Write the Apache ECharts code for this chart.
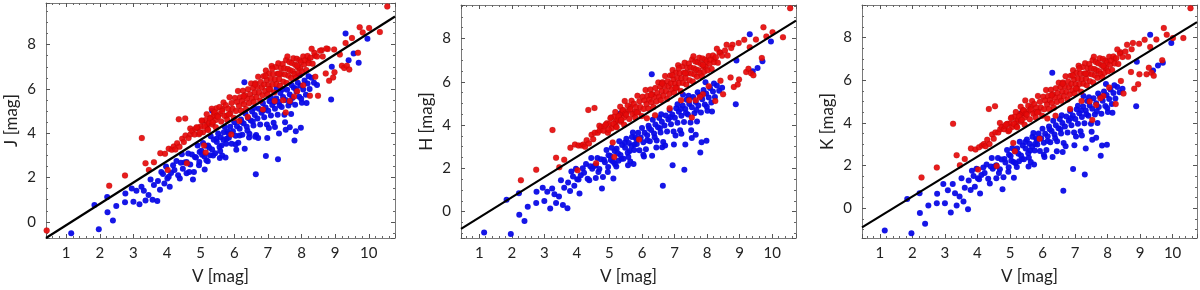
<!DOCTYPE html>
<html><head><meta charset="utf-8">
<script src="https://cdn.jsdelivr.net/npm/echarts@6/dist/echarts.min.js"></script>
<style>html,body{margin:0;padding:0;background:#fff}#c{width:1200px;height:290px}</style>
</head><body><div id="c"></div>
<script>
// rows: [V, J, H, K]
const redStars = [
[0.42,-0.39,-0.53,-0.59],[2.28,1.63,1.45,1.44],[2.75,2.09,1.94,1.90],[3.25,3.78,3.77,3.95],
[3.36,2.64,2.49,2.48],[3.46,2.34,2.05,2.01],[3.61,2.69,2.40,2.30],[3.80,3.10,2.95,2.80],
[3.94,3.07,3.10,2.75],[4.02,2.34,1.91,1.81],[4.05,3.30,3.05,2.85],[4.14,3.25,3.05,2.94],
[4.20,3.40,3.10,3.00],[4.25,3.27,3.00,2.90],[4.30,3.55,3.30,3.20],[4.37,3.39,3.15,3.00],
[4.35,4.63,4.70,4.64],[4.45,3.75,3.55,3.45],[4.50,3.60,3.35,3.25],[4.54,4.67,4.79,4.78],
[4.55,3.90,3.65,3.55],[4.59,2.64,2.24,1.97],[4.64,3.78,3.65,3.55],[4.69,4.21,3.97,3.99],
[4.70,3.95,3.75,3.70],[4.75,4.10,3.90,3.80],[4.82,3.94,3.74,3.70],[4.85,4.20,3.95,3.85],
[4.92,4.25,4.08,3.95],[4.95,3.95,3.65,3.60],[5.00,4.30,4.05,3.95],[5.05,4.55,4.35,4.25],
[5.07,4.04,3.85,3.80],[5.10,3.45,3.20,3.05],[5.15,3.13,2.52,2.66],[5.15,4.60,4.40,4.30],
[5.19,4.37,4.15,4.05],[5.20,4.20,3.95,3.85],[5.25,4.46,4.25,4.15],[5.30,4.70,4.45,4.40],
[5.35,4.40,4.15,4.05],[5.38,4.78,4.55,4.45],[5.40,4.95,4.70,4.60],[5.45,4.60,4.35,4.25],
[5.47,5.13,5.11,5.05],[5.57,4.87,4.65,4.55],[5.65,5.09,4.85,4.75],[5.77,4.79,4.60,4.50],
[5.91,3.94,3.33,3.25],[6.15,4.55,4.31,4.20],[7.53,4.94,4.35,4.13],[7.65,5.45,5.15,4.83],
[7.87,5.90,5.42,5.26],[8.25,5.69,5.11,4.88],[8.49,5.69,5.42,5.37],[8.41,6.55,6.05,5.96],
[8.72,6.70,6.20,6.38],[8.82,6.37,5.76,5.60],[8.94,6.52,5.88,5.80],[8.98,6.75,6.11,6.27],
[9.20,7.05,6.45,6.27],[9.27,6.95,6.60,6.58],[9.35,7.05,6.40,6.35],[9.42,6.88,6.30,6.20],
[9.68,7.63,7.10,6.93],[8.60,7.75,7.71,7.66],[8.78,7.80,7.71,7.74],[8.97,7.78,7.79,7.70],
[9.14,7.55,7.94,7.89],[9.31,8.07,7.60,7.55],[9.50,8.30,7.95,7.90],[9.73,8.78,8.52,8.44],
[9.82,8.55,8.09,8.13],[10.01,8.75,8.29,7.97],[10.33,8.57,8.06,7.97],[10.55,9.72,9.40,9.37],
[8.40,7.50,7.35,7.30],[8.20,7.30,7.05,7.00],
[4.88,4.27,4.02,3.92],[4.98,4.02,3.78,3.66],[5.03,4.57,4.32,4.21],[5.12,4.31,4.06,3.95],
[5.18,4.86,4.60,4.50],[5.22,4.15,3.90,3.79],[5.28,4.66,4.40,4.30],[5.33,5.11,4.85,4.75],
[5.36,4.49,4.23,4.13],[5.42,4.94,4.68,4.58],[5.45,4.27,4.02,3.91],[5.49,4.78,4.52,4.42],
[5.52,4.74,4.47,4.38],[5.56,5.18,4.90,4.80],[5.61,4.53,4.28,4.16],[5.64,5.00,4.73,4.62],
[5.68,5.39,5.12,5.02],[5.72,4.78,4.50,4.42],[5.75,5.26,4.98,4.88],[5.79,4.60,4.35,4.25],
[5.82,5.10,4.83,4.71],[5.86,5.62,5.35,5.26],[5.88,4.89,4.60,4.52],[5.92,5.37,5.10,4.99],
[5.95,5.10,4.84,4.72],[5.99,4.69,4.42,4.33],[6.02,5.59,5.31,5.22],[6.05,5.00,4.74,4.63],
[6.08,5.41,5.13,5.04],[6.11,5.91,5.62,5.54],[6.14,5.23,4.96,4.86],[6.17,5.63,5.36,5.26],
[6.20,5.02,4.76,4.64],[6.23,5.45,5.18,5.07],[6.26,5.92,5.64,5.55],[6.29,5.31,5.05,4.93],
[6.32,5.71,5.43,5.34],[6.35,5.09,4.83,4.71],[6.38,5.56,5.30,5.18],[6.41,5.99,5.71,5.62],
[6.44,5.35,5.09,4.97],[6.47,5.76,5.48,5.39],[6.50,6.25,5.97,5.88],[6.53,5.58,5.31,5.20],
[6.56,6.04,5.77,5.66],[6.58,5.41,5.15,5.03],[6.61,5.84,5.57,5.46],[6.63,6.26,5.98,5.89],
[6.66,5.63,5.36,5.25],[6.69,6.09,5.82,5.71],[6.71,6.55,6.27,6.18],[6.74,5.84,5.58,5.46],
[6.77,5.47,5.20,5.09],[6.79,6.31,6.03,5.94],[6.82,6.06,5.80,5.68],[6.84,5.71,5.44,5.33],
[6.87,6.57,6.29,6.20],[6.89,6.20,5.93,5.82],[6.92,5.91,5.65,5.53],[6.94,6.83,6.55,6.46],
[6.97,6.40,6.12,6.03],[6.99,5.75,5.49,5.37],[7.02,6.18,5.91,5.80],[7.04,6.70,6.42,6.33],
[7.07,5.98,5.72,5.60],[7.09,6.45,6.18,6.07],[7.11,7.04,6.76,6.67],[7.14,6.20,5.94,5.82],
[7.16,6.68,6.40,6.31],[7.19,5.84,5.58,5.46],[7.21,6.43,6.16,6.05],[7.24,6.99,6.71,6.62],
[7.26,6.21,5.95,5.83],[7.29,6.69,6.42,6.31],[7.31,7.16,6.88,6.79],[7.34,6.44,6.18,6.06],
[7.36,6.14,5.88,5.76],[7.39,6.93,6.65,6.56],[7.41,6.68,6.41,6.30],[7.44,7.13,6.85,6.76],
[7.46,6.33,6.07,5.95],[7.49,6.93,6.66,6.55],[7.51,6.65,6.38,6.27],[7.54,7.31,7.03,6.94],
[7.56,6.27,6.01,5.89],[7.59,6.90,6.63,6.52],[7.61,6.60,6.34,6.22],[7.64,7.22,6.94,6.85],
[7.66,6.84,6.57,6.46],[7.69,6.49,6.23,6.11],[7.71,7.17,6.90,6.79],[7.74,6.80,6.53,6.42],
[7.76,7.39,7.11,7.02],[7.79,6.67,6.41,6.29],[7.81,7.09,6.82,6.71],[7.84,6.52,6.26,6.14],
[7.86,7.36,7.08,6.99],[7.89,6.98,6.71,6.60],[7.91,6.73,6.47,6.35],[7.94,7.29,7.02,6.91],
[7.96,6.95,6.69,6.57],[7.99,7.21,6.94,6.83],[8.02,6.79,6.53,6.41],[8.05,7.47,7.19,7.10],
[8.08,7.10,6.83,6.72],[8.11,7.30,7.03,6.92],[8.14,6.85,6.59,6.47],[8.18,7.49,7.22,7.11],
[8.22,7.16,6.90,6.78],[8.27,7.41,7.14,7.03],[8.33,7.14,6.88,6.76],[8.38,7.63,7.36,7.25],
[8.46,7.46,7.20,7.08],[8.55,7.72,7.45,7.34],[8.63,7.47,7.21,7.09],[8.74,7.83,7.56,7.45],
[7.20,5.45,5.15,5.02],[7.45,5.49,5.15,5.00],[6.85,5.07,4.78,4.65],[8.05,6.17,5.80,5.65],
[6.40,4.73,4.45,4.33],[7.78,5.66,5.30,5.15],[6.62,6.20,5.92,5.83],[7.13,6.92,6.63,6.55],
[7.58,7.47,7.18,7.10],[7.03,5.99,5.72,5.61],[6.28,5.67,5.40,5.29],[6.93,6.59,6.31,6.22],
[7.87,7.05,6.78,6.67],[5.84,4.85,4.58,4.48],[8.30,7.81,7.53,7.44],[7.33,6.68,6.40,6.30]
];
const blueStars = [
[1.15,-0.51,-0.96,-1.05],[1.97,-0.34,-1.04,-1.18],[1.84,0.76,0.55,0.43],[2.22,1.12,0.85,0.70],
[2.23,0.43,-0.15,-0.23],[2.39,0.06,-0.43,-0.73],[2.49,0.72,0.23,0.12],[2.75,0.88,0.40,0.23],
[2.76,1.28,0.92,0.67],[2.95,1.51,1.10,1.13],[3.00,0.91,0.49,0.23],[3.09,1.40,0.92,0.84],
[3.18,0.79,0.14,-0.20],[3.24,1.58,1.07,1.13],[3.31,1.40,0.80,0.70],[3.36,0.96,0.40,0.12],
[3.45,1.21,0.70,0.55],[3.51,1.91,1.45,1.40],[3.57,1.00,0.31,0.31],[3.61,1.66,1.10,0.95],
[3.71,0.94,0.15,-0.05],[3.73,1.84,1.35,1.30],[3.79,1.45,0.95,0.85],[3.83,2.25,1.85,1.75],
[3.92,1.73,1.20,1.00],[4.01,1.96,1.50,1.40],[4.08,1.58,0.84,0.68],[4.12,2.21,1.68,1.55],
[4.18,2.55,2.00,1.90],[4.38,1.96,1.45,1.16],[4.47,2.40,1.98,1.85],[4.58,2.70,2.14,2.01],
[4.66,2.25,1.83,1.65],[4.77,1.91,1.07,0.88],[4.83,2.93,2.40,2.30],[4.95,2.55,1.83,1.70],
[4.97,3.15,2.60,2.50],[5.12,2.36,1.53,1.42],[5.17,2.78,2.20,2.10],[5.22,3.45,2.90,2.80],
[5.34,5.01,4.55,4.45],[5.37,3.00,2.44,2.30],[5.47,3.75,3.20,3.10],[5.57,2.88,2.14,1.95],
[5.62,3.45,2.80,2.70],[5.69,4.04,3.45,3.35],[5.77,3.75,3.10,3.00],[6.30,6.30,6.35,6.35],
[6.04,3.49,2.63,2.50],[6.16,3.90,3.30,3.15],[6.44,3.81,2.96,2.66],[6.62,3.84,2.98,2.63],
[6.64,2.15,1.19,0.82],[6.94,2.97,2.14,1.83],[6.98,3.79,3.10,2.95],[7.21,4.28,3.60,3.40],
[7.30,2.82,1.94,1.58],[7.33,3.99,3.10,2.80],[7.53,4.16,3.40,3.20],[7.65,4.27,3.55,3.30],
[7.79,3.67,2.73,2.45],[7.83,4.09,3.21,2.94],[7.98,4.25,3.28,2.97],[8.88,5.52,4.96,4.77],
[8.46,6.18,5.73,5.60],[8.90,7.00,6.99,6.86],[9.31,8.50,8.20,8.13],[9.55,7.60,6.64,6.69],
[9.70,7.18,6.95,6.81],[9.96,8.27,7.86,7.74],[9.40,7.30,6.49,6.45],
[3.88,2.16,1.62,1.50],[3.97,2.50,1.98,1.85],[4.05,2.03,1.48,1.35],[4.22,2.34,1.80,1.65],
[4.28,2.75,2.20,2.05],[4.33,2.10,1.52,1.38],[4.41,2.67,2.10,1.95],[4.44,3.05,2.48,2.35],
[4.52,2.68,2.10,1.95],[4.58,2.19,1.55,1.40],[4.63,3.08,2.48,2.35],[4.69,2.59,1.97,1.82],
[4.74,3.04,2.42,2.28],[4.80,2.25,1.60,1.45],[4.86,2.91,2.28,2.14],[4.91,3.45,2.85,2.72],
[4.96,2.70,2.06,1.92],[5.02,3.21,2.58,2.44],[5.07,3.56,2.95,2.81],[5.11,2.95,2.30,2.16],
[5.16,3.44,2.80,2.66],[5.21,2.74,2.08,1.93],[5.26,3.34,2.70,2.55],[5.30,3.86,3.25,3.11],
[5.34,3.27,2.62,2.47],[5.39,3.71,3.08,2.93],[5.43,3.10,2.44,2.29],[5.48,3.60,2.95,2.80],
[5.52,3.99,3.37,3.22],[5.56,3.38,2.72,2.57],[5.60,3.82,3.17,3.02],[5.64,3.00,2.32,2.16],
[5.68,3.69,3.03,2.88],[5.72,4.28,3.66,3.52],[5.76,3.52,2.85,2.70],[5.80,4.08,3.43,3.28],
[5.84,3.80,3.13,2.98],[5.88,4.29,3.65,3.50],[5.92,3.52,2.84,2.68],[5.96,4.09,3.43,3.28],
[6.00,4.50,3.86,3.72],[6.04,3.89,3.21,3.06],[6.08,4.31,3.64,3.49],[6.12,3.57,2.88,2.72],
[6.16,4.20,3.53,3.37],[6.20,4.62,3.97,3.82],[6.24,3.93,3.25,3.09],[6.28,4.44,3.77,3.62],
[6.33,4.89,4.25,4.10],[6.37,4.29,3.61,3.45],[6.41,4.69,4.03,3.88],[6.45,3.98,3.29,3.13],
[6.49,4.57,3.90,3.74],[6.53,4.98,4.33,4.18],[6.57,4.35,3.66,3.50],[6.61,4.82,4.15,3.99],
[6.65,3.92,3.22,3.05],[6.69,4.66,3.98,3.82],[6.73,5.10,4.44,4.29],[6.77,4.39,3.70,3.54],
[6.81,4.93,4.26,4.10],[6.85,5.35,4.70,4.55],[6.89,4.72,4.04,3.88],[6.93,5.16,4.49,4.34],
[6.97,4.40,3.70,3.54],[7.01,5.02,4.34,4.18],[7.05,5.44,4.78,4.63],[7.09,4.80,4.11,3.95],
[7.13,5.28,4.61,4.45],[7.17,4.47,3.76,3.60],[7.21,5.11,4.43,4.27],[7.25,5.57,4.91,4.76],
[7.29,4.84,4.14,3.98],[7.33,5.41,4.74,4.58],[7.37,5.82,5.17,5.02],[7.41,5.18,4.49,4.33],
[7.45,5.64,4.97,4.81],[7.49,4.83,4.12,3.95],[7.53,5.50,4.82,4.66],[7.57,5.96,5.30,5.15],
[7.61,5.25,4.55,4.39],[7.65,5.75,5.07,4.91],[7.69,4.87,4.16,3.99],[7.73,5.59,4.90,4.74],
[7.77,6.05,5.38,5.23],[7.81,5.29,4.58,4.42],[7.85,5.88,5.19,5.03],[7.89,6.28,5.62,5.47],
[7.93,5.65,4.95,4.79],[7.97,6.14,5.46,5.30],[8.01,5.38,4.66,4.50],[8.05,5.97,5.28,5.12],
[8.09,6.38,5.71,5.56],[8.13,5.74,5.04,4.88],[8.18,6.24,5.55,5.40],[8.24,6.00,5.30,5.14],
[8.30,6.51,5.83,5.68],[8.37,6.28,5.59,5.43],
[5.04,3.03,2.38,2.22],[5.28,3.01,2.35,2.20],[5.58,3.20,2.52,2.36],[5.83,3.99,3.33,3.18],
[6.06,3.26,2.55,2.40],[6.22,4.51,3.85,3.70],[6.39,4.12,3.44,3.28],[6.55,4.53,3.85,3.70],
[6.71,3.78,3.05,2.90],[6.87,5.04,4.36,4.21],[7.03,4.24,3.52,3.36],[7.19,5.41,4.74,4.58],
[7.35,5.25,4.56,4.40],[7.51,4.50,3.76,3.58],[7.67,5.40,4.70,4.54],[7.83,6.01,5.34,5.18],
[7.99,5.56,4.85,4.69],[8.15,5.36,4.63,4.47],[8.21,6.57,5.92,5.76],[7.43,5.97,5.35,5.20],
[7.09,5.60,4.96,4.80],[6.59,5.14,4.50,4.35],[7.71,6.17,5.52,5.37],[5.74,2.90,2.20,2.05],
[6.31,3.30,2.58,2.40],[7.26,6.01,5.40,5.25],[7.95,6.62,5.98,5.82]
];
// fit lines: [V, mag] endpoints per band
const fitJ = [[0.40,-0.73],[10.78,9.27]];
const fitH = [[0.44,-0.80],[10.73,8.83]];
const fitK = [[0.45,-0.90],[10.75,8.72]];
const bandNames = ['J [mag]','H [mag]','K [mag]'];
const xRanges = [[0.40,10.78],[0.44,10.73],[0.45,10.75]];
const yRanges = [[-0.73,9.88],[-1.22,9.55],[-1.40,9.52]];

const grids = [
  {left:46, top:3, width:349, height:237},
  {left:461, top:5, width:335, height:235},
  {left:862, top:5, width:335, height:235}
];
const FONT = 'Lato';
const frameCol = '#7a7a7a';
const option = {animation:false, backgroundColor:'#fff', grid:grids, xAxis:[], yAxis:[], series:[]};
const fits = [fitJ, fitH, fitK];
for (let i=0;i<3;i++){
  const tickCommon = {show:true, inside:true, length:4, lineStyle:{color:'#555', width:1}};
  const minorCommon = {show:true, length:2, lineStyle:{color:'#666', width:1}};
  option.xAxis.push({type:'value', gridIndex:i, min:xRanges[i][0], max:xRanges[i][1], splitNumber:10,
    name:'V [mag]', nameLocation:'middle', nameGap:30,
    nameTextStyle:{fontFamily:FONT, fontSize:17, color:'#222'},
    axisLine:{show:true, onZero:false, lineStyle:{color:frameCol, width:1}},
    axisTick:tickCommon, minorTick:Object.assign({splitNumber:5}, minorCommon),
    splitLine:{show:false},
    axisLabel:{showMinLabel:false, showMaxLabel:false, fontFamily:FONT, fontSize:15, color:'#222', margin:8}});
  option.xAxis.push({type:'value', gridIndex:i, position:'top', min:xRanges[i][0], max:xRanges[i][1], splitNumber:10,
    axisLine:{show:true, onZero:false, lineStyle:{color:frameCol, width:1}},
    axisTick:tickCommon, minorTick:Object.assign({splitNumber:5}, minorCommon),
    splitLine:{show:false}, axisLabel:{show:false}});
  option.yAxis.push({type:'value', gridIndex:i, min:yRanges[i][0], max:yRanges[i][1], splitNumber:5,
    name:bandNames[i], nameLocation:'middle', nameGap:26,
    nameTextStyle:{fontFamily:FONT, fontSize:17, color:'#222'},
    axisLine:{show:true, onZero:false, lineStyle:{color:frameCol, width:1}},
    axisTick:tickCommon, minorTick:Object.assign({splitNumber:4}, minorCommon),
    splitLine:{show:false},
    axisLabel:{showMinLabel:false, showMaxLabel:false, fontFamily:FONT, fontSize:15, color:'#222', margin:10}});
  option.yAxis.push({type:'value', gridIndex:i, position:'right', min:yRanges[i][0], max:yRanges[i][1], splitNumber:5,
    axisLine:{show:true, onZero:false, lineStyle:{color:frameCol, width:1}},
    axisTick:tickCommon, minorTick:Object.assign({splitNumber:4}, minorCommon),
    splitLine:{show:false}, axisLabel:{show:false}});
  const col = i+1;
  option.series.push({type:'scatter', xAxisIndex:2*i, yAxisIndex:2*i, symbolSize:6,
    itemStyle:{color:'#0a0ae6', opacity:0.95}, data:blueStars.map(r=>[r[0], r[col]]), z:2});
  option.series.push({type:'scatter', xAxisIndex:2*i, yAxisIndex:2*i, symbolSize:6,
    itemStyle:{color:'#e60a0a', opacity:0.92, borderColor:'rgba(110,0,0,0.25)', borderWidth:0.6},
    data:redStars.map(r=>[r[0], r[col]]), z:3});
  option.series.push({type:'line', xAxisIndex:2*i, yAxisIndex:2*i, data:fits[i], symbol:'none',
    lineStyle:{color:'#000', width:2.2}, z:4});
}
const chart = echarts.init(document.getElementById('c'), null, {renderer:'canvas'});
chart.setOption(option);
</script></body></html>
